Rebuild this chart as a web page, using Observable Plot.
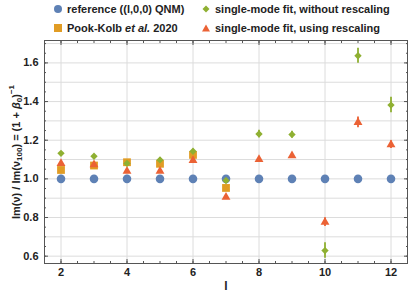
<!DOCTYPE html>
<html><head><meta charset="utf-8">
<script src="https://cdn.jsdelivr.net/npm/d3@7"></script>
<script src="https://cdn.jsdelivr.net/npm/@observablehq/plot@0.6"></script>
<style>
body{margin:0;background:#fff;font-family:"Liberation Sans",Arial,sans-serif;font-weight:bold;}
#legend{position:relative;width:415px;height:38px;font-size:11px;color:#222;}
.item{position:absolute;white-space:nowrap;display:flex;align-items:center;}
.item svg{margin-right:4px;}
</style></head>
<body>
<div id="legend"></div>
<div id="chart"></div>
<script>
// ---- data ----
const ls = [2,3,4,5,6,7,8,9,10,11,12];
const reference = [1,1,1,1,1,1,1,1,1,1,1];
const pookL = [2,3,4,5,6,7];
const pookV = [1.046,1.069,1.086,1.078,1.124,0.953];
const noRescale = [1.132,1.117,1.080,1.098,1.143,0.991,1.232,1.229,0.629,1.637,1.382];
const noRescaleErr = [0.008,0.007,0.008,0.012,0.010,0.012,0.019,0.018,0.040,0.039,0.040];
const rescale = [1.080,1.074,1.040,1.040,1.095,0.905,1.101,1.120,0.776,1.292,1.177];
const rescaleErr = [0.008,0.008,0.008,0.008,0.010,0.010,0.010,0.010,0.023,0.028,0.020];
const xTicks = [2,4,6,8,10,12];
const yTicks = [0.6,0.8,1.0,1.2,1.4,1.6];
const yGrid = [0.6,0.7,0.8,0.9,1.0,1.1,1.2,1.3,1.4,1.5,1.6,1.7];
const xMinor = d3.range(1.5,12.51,0.5);
const yMinor = d3.range(0.6,1.71,0.05);
const legendLabels = ["reference ((l,0,0) QNM)","Pook-Kolb <i>et al.</i> 2020","single-mode fit, without rescaling","single-mode fit, using rescaling"];
const colors = ["#5E81B5","#E19C24","#8FB032","#EB6235"];

const refData = ls.map((l,i)=>({l, v:reference[i]}));
const pookData = pookL.map((l,i)=>({l, v:pookV[i]}));
const noData = ls.map((l,i)=>({l, v:noRescale[i], e:noRescaleErr[i]}));
const reData = ls.map((l,i)=>({l, v:rescale[i], e:rescaleErr[i]}));

// ---- legend ----
const shapes = [
  '<circle cx="5" cy="5" r="4"/>',
  '<rect x="1" y="1" width="8" height="8"/>',
  '<path d="M5,1.5 L8.5,5 L5,8.5 L1.5,5Z"/>',
  '<path d="M5,1.5 L9,8.5 L1,8.5Z"/>'
];
const pos = [[53,3],[53,22],[201,3],[201,22]];
const leg = document.getElementById("legend");
legendLabels.forEach((t,i)=>{
  const d = document.createElement("div");
  d.className="item";
  d.style.left = pos[i][0]+"px"; d.style.top = pos[i][1]+"px";
  d.innerHTML = `<svg width="10" height="10" style="fill:${colors[i]}">${shapes[i]}</svg><span>${t}</span>`;
  leg.appendChild(d);
});

// ---- chart ----
const frameStroke = "#555";
const plot = Plot.plot({
  width: 415, height: 258,
  marginTop: 2, marginBottom: 33, marginLeft: 44, marginRight: 8,
  style: {fontFamily: '"Liberation Sans", Arial, sans-serif', fontWeight: "bold", fontSize: "11px", color: "#222"},
  x: {domain: [1.5, 12.5]},
  y: {domain: [0.562, 1.716]},
  marks: [
    Plot.gridY(yGrid, {stroke: "#dcdcdc", strokeOpacity: 1}),
    Plot.gridX(xTicks, {stroke: "#dcdcdc", strokeOpacity: 1}),
    Plot.frame({stroke: frameStroke}),
    Plot.axisX(xTicks, {anchor: "bottom", tickSize: 0, tickPadding: 5, tickFormat: d=>d, label: null, fill: "#222"}),
    Plot.axisX(xTicks, {anchor: "bottom", tickSize: -4, fill: "none", stroke: frameStroke, label: null}),
    Plot.axisX(xMinor, {anchor: "bottom", tickSize: -2, fill: "none", stroke: frameStroke, label: null}),
    Plot.axisX(xTicks, {anchor: "top", tickSize: -4, fill: "none", stroke: frameStroke, label: null}),
    Plot.axisX(xMinor, {anchor: "top", tickSize: -2, fill: "none", stroke: frameStroke, label: null}),
    Plot.axisY(yTicks, {anchor: "left", tickSize: 0, tickPadding: 6, tickFormat: d3.format(".1f"), label: null, fill: "#222"}),
    Plot.axisY(yTicks, {anchor: "left", tickSize: -4, fill: "none", stroke: frameStroke, label: null}),
    Plot.axisY(yMinor, {anchor: "left", tickSize: -2, fill: "none", stroke: frameStroke, label: null}),
    Plot.axisY(yTicks, {anchor: "right", tickSize: -4, fill: "none", stroke: frameStroke, label: null}),
    Plot.axisY(yMinor, {anchor: "right", tickSize: -2, fill: "none", stroke: frameStroke, label: null}),
    Plot.dot(refData, {x: "l", y: "v", r: 4.3, symbol: "circle", fill: colors[0]}),
    Plot.dot(pookData, {x: "l", y: "v", r: 4.4, symbol: "square", fill: colors[1]}),
    Plot.ruleX(reData, {x: "l", y1: d=>d.v-d.e, y2: d=>d.v+d.e, stroke: colors[3], strokeWidth: 1.8}),
    Plot.dot(reData, {x: "l", y: "v", r: 3.3, symbol: "triangle", fill: colors[3]}),
    Plot.ruleX(noData, {x: "l", y1: d=>d.v-d.e, y2: d=>d.v+d.e, stroke: colors[2], strokeWidth: 1.8}),
    Plot.dot(noData, {x: "l", y: "v", r: 3.3, symbol: "diamond2", fill: colors[2]}),
    Plot.text(["l"], {frameAnchor: "bottom", dy: 26, text: d=>d, fill: "#222", fontSize: 12})
  ]
});
document.getElementById("chart").appendChild(plot);

// y axis title with sub/superscripts
const svg = d3.select(plot);
const t = svg.append("text")
  .attr("transform", "translate(17,114) rotate(-90)")
  .attr("text-anchor", "middle")
  .attr("dominant-baseline", "middle")
  .attr("font-size", 11).attr("font-weight", "bold").attr("fill", "#222");
t.append("tspan").text("Im(ν) / Im(ν");
t.append("tspan").attr("font-size", 8).attr("dy", 3).text("100");
t.append("tspan").attr("dy", -3).text(") = (1 + ");
t.append("tspan").attr("font-style", "italic").text("β");
t.append("tspan").attr("font-size", 8).attr("dy", 3).text("0");
t.append("tspan").attr("dy", -3).text(")");
t.append("tspan").attr("font-size", 8).attr("dy", -5).text("−1");
</script>
</body></html>
